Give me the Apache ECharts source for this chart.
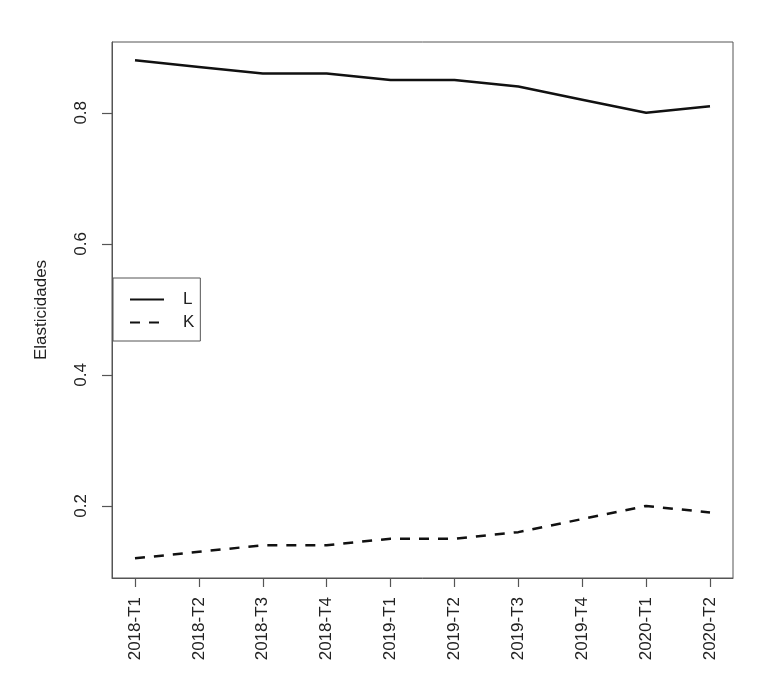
<!DOCTYPE html>
<html>
<head>
<meta charset="utf-8">
<script src="https://cdn.jsdelivr.net/npm/echarts@6/dist/echarts.min.js"></script>
<style>
  html, body { margin: 0; padding: 0; background: #fff; }
  #chart { width: 782px; height: 689px; }
</style>
</head>
<body>
<div id="chart"></div>
<script>
// 数据
const periods = ['2018-T1', '2018-T2', '2018-T3', '2018-T4', '2019-T1', '2019-T2', '2019-T3', '2019-T4', '2020-T1', '2020-T2'];
const valuesL = [0.88, 0.87, 0.86, 0.86, 0.85, 0.85, 0.84, 0.82, 0.80, 0.81];
const valuesK = [0.12, 0.13, 0.14, 0.14, 0.15, 0.15, 0.16, 0.18, 0.20, 0.19];
const yTicks = [0.2, 0.4, 0.6, 0.8];

const chart = echarts.init(document.getElementById('chart'));
const font = 'Liberation Sans, Arial, sans-serif';
const xIdx = periods.map((p, i) => i);
const axisGray = '#555';

const option = {
  animation: false,
  backgroundColor: '#fff',
  grid: {
    left: 112, top: 42, width: 621, height: 536,
    show: true, borderColor: axisGray, borderWidth: 1
  },
  xAxis: {
    type: 'value',
    min: -0.36,
    max: 9.36,
    axisLine: { show: true, onZero: false, lineStyle: { color: axisGray, width: 1 } },
    splitLine: { show: false },
    axisTick: { show: true, inside: false, length: 9, customValues: xIdx, lineStyle: { color: axisGray, width: 1.2 } },
    axisLabel: {
      customValues: xIdx,
      rotate: 90,
      margin: 19,
      fontFamily: font,
      fontSize: 17,
      color: '#222',
      formatter: v => periods[Math.round(v)]
    }
  },
  yAxis: {
    type: 'value',
    min: 0.09,
    max: 0.908,
    name: 'Elasticidades',
    nameLocation: 'middle',
    nameGap: 62,
    nameTextStyle: { fontFamily: font, fontSize: 17, color: '#222' },
    axisLine: { show: true, onZero: false, lineStyle: { color: axisGray, width: 1 } },
    splitLine: { show: false },
    axisTick: { show: true, inside: false, length: 10, customValues: yTicks, lineStyle: { color: axisGray, width: 1.2 } },
    axisLabel: {
      customValues: yTicks,
      rotate: 90,
      margin: 22,
      fontFamily: font,
      fontSize: 17,
      color: '#222',
      formatter: v => v.toFixed(1)
    }
  },
  legend: {
    left: 113,
    top: 278,
    orient: 'vertical',
    padding: [13, 6, 10, 16],
    borderColor: axisGray,
    borderWidth: 1,
    backgroundColor: '#fff',
    itemWidth: 34,
    itemHeight: 14,
    itemGap: 6,
    itemStyle: { color: 'transparent', borderColor: 'transparent', borderWidth: 0 },
    textStyle: { fontFamily: font, fontSize: 17, color: '#222', padding: [0, 0, 0, 14] },
    data: ['L', 'K']
  },
  series: [
    {
      name: 'L',
      type: 'line',
      symbol: 'none',
      data: valuesL.map((v, i) => [i, v]),
      lineStyle: { color: '#111', width: 2.5 },
      itemStyle: { color: '#111' }
    },
    {
      name: 'K',
      type: 'line',
      symbol: 'none',
      data: valuesK.map((v, i) => [i, v]),
      lineStyle: { color: '#111', width: 2.5, type: [10, 9] },
      itemStyle: { color: '#111' }
    }
  ]
};

chart.setOption(option);
</script>
</body>
</html>
